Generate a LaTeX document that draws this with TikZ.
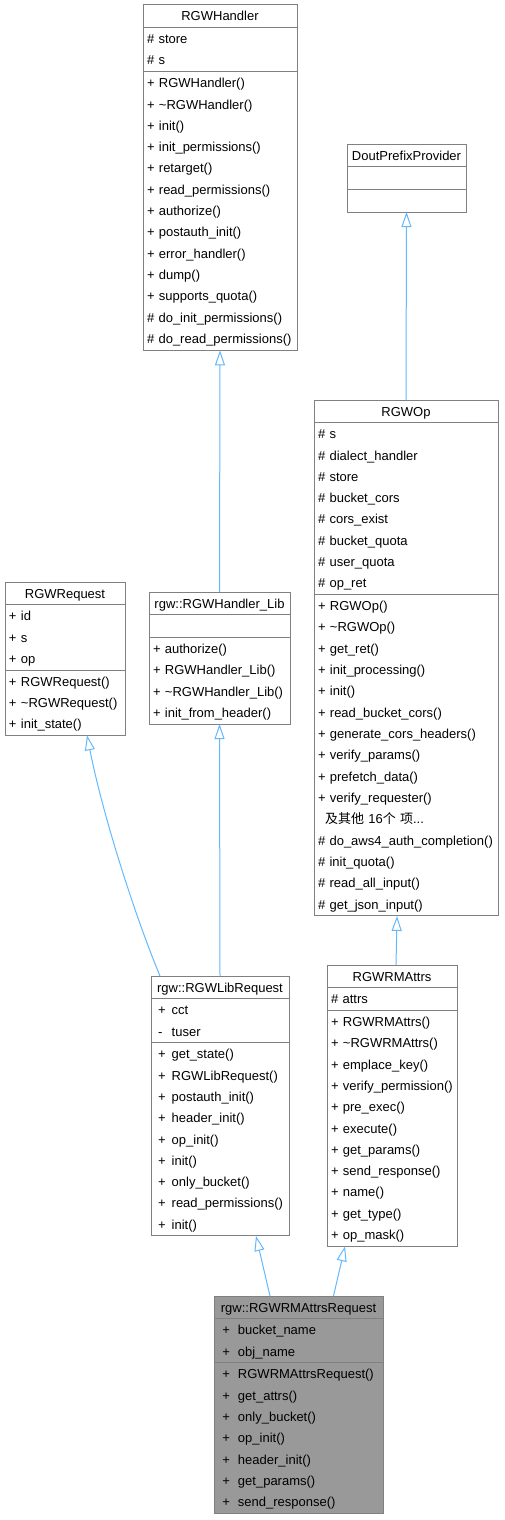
\documentclass[tikz,border=0pt]{standalone}
\usepackage{fontspec}
\setmainfont{Liberation Sans}
\newfontfamily\cjk{Noto Sans CJK SC}
\usetikzlibrary{positioning, arrows.meta}

\definecolor{bordo}{HTML}{808080}
\definecolor{freccia}{HTML}{63B8FF}
\definecolor{grigio}{HTML}{999999}

% altezza fissa di ogni riga
\newcommand{\riga}{\rule[-6pt]{0pt}{21.33pt}}
% prefisso di visibilita' in colonna
\newcommand{\vis}[3]{\hspace*{#1}\makebox[#2][l]{#3}}

\begin{document}
\begin{tikzpicture}[x=1pt, y=1pt,
    parte/.style={draw=bordo, line width=1pt, fill=white, outer sep=0pt,
        inner xsep=4pt, inner ysep=0.67pt, align=left,
        font=\fontsize{13}{21.33}\selectfont},
    titolo/.style={parte, anchor=north, align=center},
    scuro/.style={fill=grigio},
    eredita/.style={draw=freccia, line width=1pt,
        -{Triangle[length=15pt, width=10pt, fill=white]}}]

        \useasboundingbox (0,0) rectangle (504,-1520);

        % --- RGWHandler ---
        \node[titolo, text width=146pt] (handler) at (220,-5) {\riga RGWHandler};
        \node[parte, text width=146pt, below=0pt of handler] (handler-a)
            {\riga\# store\\ \riga\# s};
        \node[parte, text width=146pt, below=0pt of handler-a] (handler-m)
            {\riga + RGWHandler()\\ \riga + \textasciitilde RGWHandler()\\
             \riga + init()\\ \riga + init\_permissions()\\ \riga + retarget()\\
             \riga + read\_permissions()\\ \riga + authorize()\\
             \riga + postauth\_init()\\ \riga + error\_handler()\\ \riga + dump()\\
             \riga + supports\_quota()\\ \riga\# do\_init\_permissions()\\
             \riga\# do\_read\_permissions()};

        % --- DoutPrefixProvider ---
        \node[titolo, text width=111pt] (dout) at (406.5,-144) {\riga DoutPrefixProvider};
        \node[parte, text width=111pt, below=0pt of dout] (dout-a) {\riga};
        \node[parte, text width=111pt, below=0pt of dout-a] (dout-m) {\riga};

        % --- RGWOp ---
        \node[titolo, text width=176pt] (op) at (406,-400) {\riga RGWOp};
        \node[parte, text width=176pt, below=0pt of op] (op-a)
            {\riga\# s\\ \riga\# dialect\_handler\\ \riga\# store\\
             \riga\# bucket\_cors\\ \riga\# cors\_exist\\ \riga\# bucket\_quota\\
             \riga\# user\_quota\\ \riga\# op\_ret};
        \node[parte, text width=176pt, below=0pt of op-a] (op-m)
            {\riga + RGWOp()\\ \riga + \textasciitilde RGWOp()\\ \riga + get\_ret()\\
             \riga + init\_processing()\\ \riga + init()\\
             \riga + read\_bucket\_cors()\\ \riga + generate\_cors\_headers()\\
             \riga + verify\_params()\\ \riga + prefetch\_data()\\
             \riga + verify\_requester()\\
             \riga\hspace*{7pt}{\cjk 及其他} 16{\cjk 个} {\cjk 项}...\\
             \riga\# do\_aws4\_auth\_completion()\\ \riga\# init\_quota()\\
             \riga\# read\_all\_input()\\ \riga\# get\_json\_input()};

        % --- RGWRequest ---
        \node[titolo, text width=112pt] (request) at (65,-582) {\riga RGWRequest};
        \node[parte, text width=112pt, below=0pt of request] (request-a)
            {\riga + id\\ \riga + s\\ \riga + op};
        \node[parte, text width=112pt, below=0pt of request-a] (request-m)
            {\riga + RGWRequest()\\ \riga + \textasciitilde RGWRequest()\\
             \riga + init\_state()};

        % --- rgw::RGWHandler_Lib ---
        \node[titolo, text width=133pt] (hlib) at (219.5,-592) {\riga rgw::RGWHandler\_Lib};
        \node[parte, text width=133pt, below=0pt of hlib] (hlib-a) {\riga};
        \node[parte, text width=133pt, below=0pt of hlib-a] (hlib-m)
            {\riga + authorize()\\ \riga + RGWHandler\_Lib()\\
             \riga + \textasciitilde RGWHandler\_Lib()\\ \riga + init\_from\_header()};

        % --- rgw::RGWLibRequest ---
        \node[titolo, text width=130pt] (libreq) at (220,-976) {\riga rgw::RGWLibRequest};
        \node[parte, text width=130pt, below=0pt of libreq] (libreq-a)
            {\riga\vis{3pt}{13.7pt}{+}cct\\ \riga\vis{3pt}{13.7pt}{-}tuser};
        \node[parte, text width=130pt, below=0pt of libreq-a] (libreq-m)
            {\riga\vis{3pt}{13.7pt}{+}get\_state()\\
             \riga\vis{3pt}{13.7pt}{+}RGWLibRequest()\\
             \riga\vis{3pt}{13.7pt}{+}postauth\_init()\\
             \riga\vis{3pt}{13.7pt}{+}header\_init()\\
             \riga\vis{3pt}{13.7pt}{+}op\_init()\\
             \riga\vis{3pt}{13.7pt}{+}init()\\
             \riga\vis{3pt}{13.7pt}{+}only\_bucket()\\
             \riga\vis{3pt}{13.7pt}{+}read\_permissions()\\
             \riga\vis{3pt}{13.7pt}{+}init()};

        % --- RGWRMAttrs ---
        \node[titolo, text width=122pt] (rmattrs) at (392,-965) {\riga RGWRMAttrs};
        \node[parte, text width=122pt, below=0pt of rmattrs] (rmattrs-a) {\riga\# attrs};
        \node[parte, text width=122pt, below=0pt of rmattrs-a] (rmattrs-m)
            {\riga + RGWRMAttrs()\\ \riga + \textasciitilde RGWRMAttrs()\\
             \riga + emplace\_key()\\ \riga + verify\_permission()\\
             \riga + pre\_exec()\\ \riga + execute()\\ \riga + get\_params()\\
             \riga + send\_response()\\ \riga + name()\\ \riga + get\_type()\\
             \riga + op\_mask()};

        % --- rgw::RGWRMAttrsRequest (classe evidenziata) ---
        \node[titolo, scuro, text width=161pt] (rmreq) at (298.5,-1296)
            {\riga rgw::RGWRMAttrsRequest};
        \node[parte, scuro, text width=161pt, below=0pt of rmreq] (rmreq-a)
            {\riga\vis{4.4pt}{15.6pt}{+}bucket\_name\\
             \riga\vis{4.4pt}{15.6pt}{+}obj\_name};
        \node[parte, scuro, text width=161pt, below=0pt of rmreq-a] (rmreq-m)
            {\riga\vis{4.4pt}{15.6pt}{+}RGWRMAttrsRequest()\\
             \riga\vis{4.4pt}{15.6pt}{+}get\_attrs()\\
             \riga\vis{4.4pt}{15.6pt}{+}only\_bucket()\\
             \riga\vis{4.4pt}{15.6pt}{+}op\_init()\\
             \riga\vis{4.4pt}{15.6pt}{+}header\_init()\\
             \riga\vis{4.4pt}{15.6pt}{+}get\_params()\\
             \riga\vis{4.4pt}{15.6pt}{+}send\_response()};

        % ==========================================
        % EREDITARIETA'
        % ==========================================
        \draw[eredita] (hlib.north) -- (handler-m.south);
        \draw[eredita] (op.north) -- (dout-m.south);
        \draw[eredita] ([xshift=9pt]libreq.north west)
            .. controls (135,-916) and (103,-816) .. ([xshift=22pt]request-m.south);
        \draw[eredita] (libreq.north) -- (hlib-m.south);
        \draw[eredita] ([xshift=4pt]rmattrs.north) -- ([xshift=-9pt]op-m.south);
        \draw[eredita] ([xshift=-28.5pt]rmreq.north) -- ([xshift=36pt]libreq-m.south);
        \draw[eredita] ([xshift=35pt]rmreq.north) -- ([xshift=-47pt]rmattrs-m.south);

    \end{tikzpicture}
\end{document}
